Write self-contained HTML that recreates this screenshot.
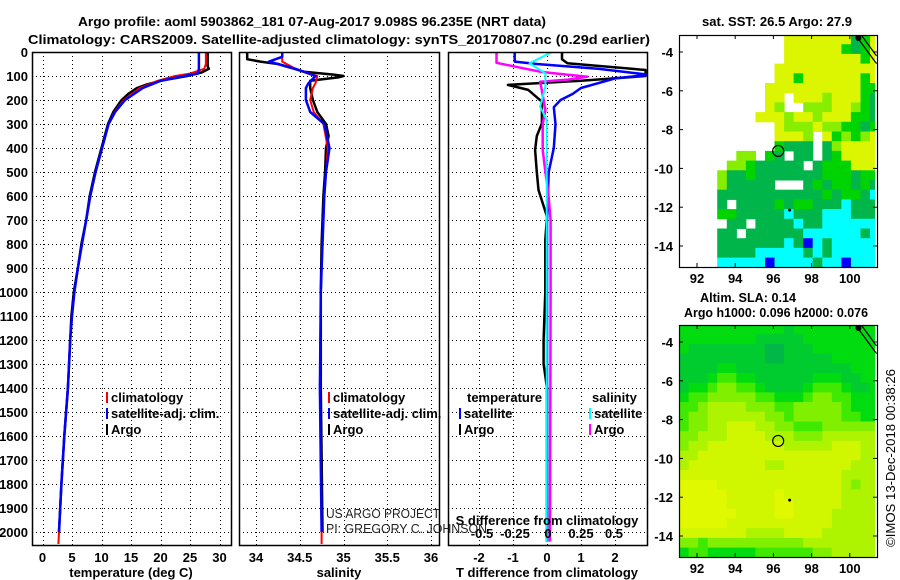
<!DOCTYPE html>
<html><head><meta charset="utf-8"><style>
html,body{margin:0;padding:0;background:#fff;}
svg{display:block;font-family:"Liberation Sans",Arial,sans-serif;}
.b{font-weight:bold;font-size:13px;}
</style></head><body>
<svg id="s" width="900" height="580" viewBox="0 0 900 580" xmlns="http://www.w3.org/2000/svg">
<text class="b" x="78" y="26" font-size="15" textLength="468" lengthAdjust="spacingAndGlyphs">Argo profile: aoml 5903862_181 07-Aug-2017 9.098S 96.235E (NRT data)</text>
<text class="b" x="28" y="44" font-size="15" textLength="622" lengthAdjust="spacingAndGlyphs">Climatology: CARS2009. Satellite-adjusted climatology: synTS_20170807.nc (0.29d earlier)</text>
<g id="g"></g>
</svg>
<script>
// ---- data ----
const depthArgoT=[0,60,70,85,100,120,135,150,175,200,250,300,400,500,600,700,800,900,1000,1100,1200,1400,1600,1800,2000];
const tempArgo=[28.0,28.0,28.2,27.0,24.5,20,17.7,16,14.5,13.4,12,11.1,10,8.9,8,7.4,6.6,6,5.3,4.9,4.7,4.3,3.7,3.2,2.8];
const depthClim=[0,50,70,90,100,120,150,200,250,300,400,500,600,700,800,900,1000,1100,1200,1400,1600,1800,2000,2050];
const tempClim=[27.7,27.7,27.4,25.0,22.5,19.5,16.5,13.8,12.2,11.2,10.1,9.0,8.1,7.4,6.7,6.0,5.4,5.0,4.7,4.3,3.7,3.2,2.8,2.7];
const tempSat=[26.5,26.5,26.5,26.3,24.0,20.0,17.0,14.0,12.3,11.2,10.1,9.0,8.1,7.4,6.7,6.0,5.4,5.0,4.7,4.3,3.7,3.2,2.8];
const depthArgoS=[0,30,40,50,82,95,100,105,120,150,200,250,300,350,400,500,600,800,1000,1400,2000];
const salArgo=[33.9,33.9,34.05,34.25,34.55,34.9,35.0,34.95,34.62,34.62,34.65,34.7,34.8,34.83,34.8,34.79,34.77,34.75,34.74,34.74,34.76];
const depthSClim=[0,20,40,70,100,130,150,200,250,300,400,500,600,800,1000,1400,2000,2050];
const salClim=[34.3,34.3,34.3,34.45,34.7,34.68,34.65,34.62,34.66,34.77,34.82,34.8,34.78,34.76,34.74,34.73,34.75,34.75];
const salSat=[34.3,34.3,34.15,34.45,34.68,34.6,34.57,34.57,34.62,34.78,34.84,34.8,34.78,34.76,34.74,34.73,34.75];
const depthDTsat=[0,40,50,70,95,110,150,175,200,230,300,400,500,700,1000,1400,2000,2040];
const dTsat=[-0.95,-0.95,-0.3,1.5,3.0,2.0,1.0,0.75,0.4,0.2,0.25,0.2,0.05,0,0,0,0,0];
const depthDTargo=[0,30,47,75,100,120,137,158,207,297,350,408,500,575,686,783,1000,1200,1300,1400,2000,2040];
const dTargo=[0.44,0.44,0.6,2.9,2.9,1.0,-1.15,-0.55,-0.15,-0.15,-0.3,-0.35,-0.3,-0.25,0,-0.05,-0.05,-0.1,-0.1,0,0,0];
const depthDSargo=[0,45,82,95,103,115,124,150,242,300,408,500,575,700,1000,2000,2040];
const dSargo=[-0.39,-0.39,-0.06,0.15,0.3,0.15,-0.06,-0.05,-0.02,-0.04,-0.04,-0.02,0,0.02,0.02,0.015,0.015];
const depthDSsat=[0,47,89,144,228,283,505,1000,2000,2040];
const dSsat=[0.03,-0.14,-0.02,-0.02,-0.06,-0.01,-0.01,-0.01,-0.01,-0.01];
const depthTicks=[0,100,200,300,400,500,600,700,800,900,1000,1100,1200,1300,1400,1500,1600,1700,1800,1900,2000];
const tempTicks=[0,5,10,15,20,25,30];
const salTicks=[34,34.5,35,35.5,36];
const salTickLabels=["34","34.5","35","35.5","36"];
const dTTicks=[-2,-1,0,1,2];
const dSTicks=[-0.5,-0.25,0,0.25,0.5];
const dSTickLabels=["-0.5","-0.25","0","0.25","0.5"];
const lonTicks=[92,94,96,98,100];
const latTicks=[-4,-6,-8,-10,-12,-14];
const sstRows=[
"...........yyyyyyydGy","...........yyyyyyGdGy","...........yyyyyyyyGy","..........yyyyyyyyyyy",
"..........yyGyyyyyyGy",".........yyyyyyyyyyGG",".........yy.yyygyyyGd",".........yg..gggyygGd",
"........yyygyygyyyGGd","..........ygggyggGGdG","..........yyyg.yGgGgy","..........Gddd.dgyyyy",
"......gg.Gd.dd.dGyyyy",".....ggGddddd.dGGGyyy","....gddGdddddddGGGdGG","....gddddd...dGdGGdGd",
"....dddddddddddGdGGdc","....d.ddddGdGGdddcddd","....GGdddddcdddcccddd",".....dd.ddddcddcccccc",
"....dd.ddddddccccccdc","....dddddddcdbcdccccc","....ddddcccccdcdccccc","....cccccbccccdccbccc"];
const slaRows=[
"222222222221222222222","222222221111122222222","211111111001112222222","111111111001111122222",
"111122111111111111222","111233221111112221122","122344332111123332112","233444443322234433222",
"334555544433444443222","344555555443444443322","344556665544333444444","445556666555444555555",
"455666666665555566655","556666666666666666655","566666666556666666555","666666666666666665555",
"777766666666666665455","777776666676666665555","777776666677666665555","777777666677666655555",
"777776666666666655555","666666655556666555555","443444444444455555555","233222223333334455555"];
// ---- helpers ----
const NS="http://www.w3.org/2000/svg";
const G=document.getElementById('g');
function mk(tag,attrs,parent){const e=document.createElementNS(NS,tag);for(const k in attrs)e.setAttribute(k,attrs[k]);(parent||G).appendChild(e);return e;}
const PT=52, PB=545;
const yD=d=>PT+0.24*d;
const xT=t=>42.5+5.9*t;
const xS=s=>256+87.5*(s-34);
const xDT=t=>547+34*t;
const xDS=s=>548+132*s;
const panels=[[32,231,'temperature-panel'],[239,439,'salinity-panel'],[448,647,'difference-panel']];
panels.forEach((p,i)=>{
  const cp=mk('clipPath',{id:'c'+i});mk('rect',{x:p[0],y:PT,width:p[1]-p[0],height:PB-PT},cp);
});
function grid(i,xs){
  const p=panels[i];
  const gg=mk('g',{stroke:'#000','stroke-width':1,'stroke-dasharray':'1 3'});
  
  
  depthTicks.forEach(d=>{if(d>0)mk('line',{x1:p[0],x2:p[1],y1:yD(d)+.5,y2:yD(d)+.5},gg);});
  xs.forEach(x=>{if(x>p[0]+1&&x<p[1]-1)mk('line',{x1:Math.round(x)+.5,x2:Math.round(x)+.5,y1:PT,y2:PB},gg);});
}
grid(0,tempTicks.map(xT));
grid(1,salTicks.map(xS));
grid(2,dTTicks.map(xDT));
function line(i,ds,vs,fx,col,w,name){
  const pts=vs.map((v,k)=>fx(v).toFixed(1)+','+yD(ds[k]).toFixed(1)).join(' ');
  const e=mk('polyline',{points:pts,fill:'none',stroke:col,'stroke-width':w,'clip-path':'url(#c'+i+')','stroke-linejoin':'round'});
  
  
}
line(0,depthArgoT,tempArgo,xT,'#000',2.5,'temp-argo-line');
line(0,depthClim,tempClim,xT,'#f00',2,'temp-climatology-line');
line(0,depthClim.slice(0,tempSat.length),tempSat,xT,'#00f',2.5,'temp-satellite-line');
line(1,depthArgoS,salArgo,xS,'#000',2.5,'sal-argo-line');
line(1,depthSClim,salClim,xS,'#f00',2,'sal-climatology-line');
line(1,depthSClim.slice(0,salSat.length),salSat,xS,'#00f',2.5,'sal-satellite-line');
line(2,depthDTargo,dTargo,xDT,'#000',2.5,'dT-argo-line');
line(2,depthDTsat,dTsat,xDT,'#00f',2.5,'dT-satellite-line');
line(2,depthDSargo,dSargo,xDS,'#f0f',2.5,'dS-argo-line');
line(2,depthDSsat,dSsat,xDS,'#0ff',2,'dS-satellite-line');
panels.forEach(p=>{
  const r=mk('rect',{x:p[0]+.5,y:PT+.5,width:p[1]-p[0],height:PB-PT,fill:'none',stroke:'#000','stroke-width':1.5});
  
  
});
function txt(x,y,s,opt){
  const e=mk('text',Object.assign({x:x,y:y,'class':'b'},opt||{}));e.textContent=s;return e;
}
depthTicks.forEach(d=>{
  const t=txt(28,yD(d)+5,String(d),{'text-anchor':'end'});
  
  
});
tempTicks.forEach(v=>{const t=txt(xT(v),562,String(v),{'text-anchor':'middle'});
  
  });
salTicks.forEach((v,k)=>{const t=txt(xS(v),562,salTickLabels[k],{'text-anchor':'middle'});
  
  });
dTTicks.forEach(v=>{const t=txt(xDT(v),562,String(v),{'text-anchor':'middle'});
  
  });
dSTicks.forEach((v,k)=>{const t=txt(xDS(v),538,dSTickLabels[k],{'text-anchor':'middle'});
  
  });
let t;
t=txt(131,577,'temperature (deg C)',{'text-anchor':'middle'});


t=txt(339,577,'salinity',{'text-anchor':'middle'});


t=txt(547,577,'T difference from climatology',{'text-anchor':'middle'});


t=txt(547,525,'S difference from climatology',{'text-anchor':'middle'});


t=txt(326,518,'US ARGO PROJECT',{'class':'','font-size':'13','fill':'#222','textLength':'114','lengthAdjust':'spacingAndGlyphs'});


t=txt(326,533,'PI: GREGORY C. JOHNSON',{'class':'','font-size':'13','fill':'#222','textLength':'161','lengthAdjust':'spacingAndGlyphs'});


function legend(x,y,col,label,name){
  const g=mk('g',{});
  
  
  mk('rect',{x:x,y:y-10,width:2,height:11,fill:col},g);
  const e=mk('text',{x:x+5,y:y,'class':'b'},g);e.textContent=label;
}
legend(106,402,'#f00','climatology','legend-temp-climatology');
legend(106,418,'#00f','satellite-adj. clim.','legend-temp-satellite');
legend(106,434,'#000','Argo','legend-temp-argo');
legend(328,402,'#f00','climatology','legend-sal-climatology');
legend(328,418,'#00f','satellite-adj. clim.','legend-sal-satellite');
legend(328,434,'#000','Argo','legend-sal-argo');
t=txt(467,402,'temperature');
t=txt(592,402,'salinity');
legend(459,418,'#00f','satellite','legend-dT-satellite');
legend(459,434,'#000','Argo','legend-dT-argo');
legend(589,418,'#0ff','satellite','legend-dS-satellite');
legend(589,434,'#f0f','Argo','legend-dS-argo');
// ---- maps ----
const MX0=679,MX1=877;
const mxL=lon=>697+19.1*(lon-92);
const sstColors={y:'#dcf500',g:'#88ee00',G:'#00d400',d:'#00b54a',c:'#00ffff',b:'#0000ff'};
const slaColors=['#00b848','#00cc30','#00dc10','#40ea00','#80f000','#aef400','#d0f600','#e0f800'];
function map(off,rows,colorFn,name){
  const top=35+off,bot=267+off;
  const myL=lat=>52+off-19.4*(lat+4);
  const cp=mk('clipPath',{id:'m'+off});mk('rect',{x:MX0,y:top,width:MX1-MX0,height:bot-top},cp);
  const g=mk('g',{'clip-path':'url(#m'+off+')'});
  
  
  rows.forEach((row,j)=>{
    const lat0=-3.1-0.5*j;
    for(let i=0;i<row.length;i++){
      const c=colorFn(row[i]);if(!c)continue;
      const lon0=91.06+0.5*i;
      const r=mk('rect',{x:mxL(lon0).toFixed(1),y:myL(lat0).toFixed(1),width:10.1,height:10.2,fill:c},g);
      
      
    }
  });
  mk('rect',{x:875,y:top,width:3,height:bot-top,fill:'#fff'},g);
  mk('path',{d:`M${mxL(100.3)} ${top} L${mxL(101.4)} ${myL(-4.6)} M${mxL(100.6)} ${top} L${mxL(101.4)} ${myL(-4.2)}`,stroke:'#000','stroke-width':1.2,fill:'none'},g);
  mk('circle',{cx:mxL(100.45),cy:top+3,r:3,fill:'#000'},g);
  const mk1=mk('circle',{cx:mxL(96.25),cy:myL(-9.1),r:5.5,fill:'none',stroke:'#000','stroke-width':1.2});
  
  
  mk('circle',{cx:mxL(96.85),cy:myL(-12.15),r:1.5,fill:'#000'});
  const fr=mk('rect',{x:MX0+.5,y:top+.5,width:MX1-MX0,height:bot-top,fill:'none',stroke:'#000','stroke-width':1.2});
  
  
  lonTicks.forEach(v=>{
    mk('line',{x1:mxL(v),x2:mxL(v),y1:bot,y2:bot-4,stroke:'#000'});
    mk('line',{x1:mxL(v),x2:mxL(v),y1:top,y2:top+4,stroke:'#000'});
    const e=txt(mxL(v),bot+16,String(v),{'text-anchor':'middle'});
    
    
  });
  latTicks.forEach(v=>{
    mk('line',{x1:MX0,x2:MX0+4,y1:myL(v),y2:myL(v),stroke:'#000'});
    mk('line',{x1:MX1-4,x2:MX1,y1:myL(v),y2:myL(v),stroke:'#000'});
    const e=txt(673,myL(v)+5,String(v),{'text-anchor':'end'});
    
    
  });
}
map(0,sstRows,ch=>sstColors[ch]||null,'sst-map');
map(290,slaRows,ch=>slaColors[+ch],'sla-map');
t=txt(702,26,'sat. SST: 26.5 Argo: 27.9',{'textLength':'150','lengthAdjust':'spacingAndGlyphs'});


t=txt(700,302,'Altim. SLA: 0.14',{'textLength':'96','lengthAdjust':'spacingAndGlyphs'});


t=txt(684,317,'Argo h1000: 0.096 h2000: 0.076',{'textLength':'184','lengthAdjust':'spacingAndGlyphs'});


t=txt(895,458,'©IMOS 13-Dec-2018 00:38:26',{'class':'','font-size':'13','text-anchor':'middle','textLength':'178','lengthAdjust':'spacingAndGlyphs','transform':'rotate(-90 895 458)'});


</script>
</body></html>
